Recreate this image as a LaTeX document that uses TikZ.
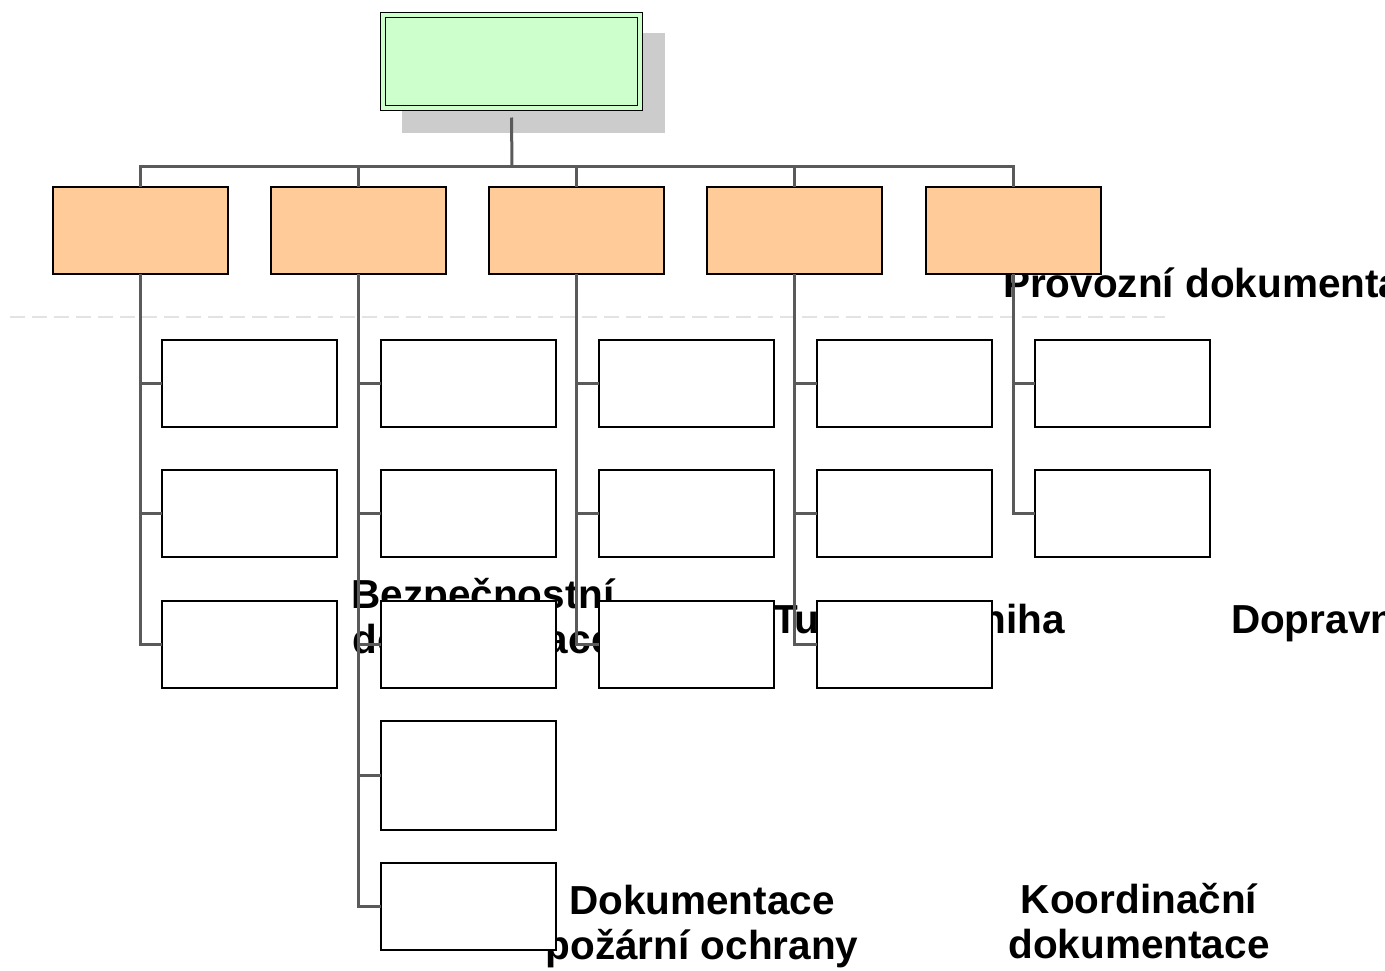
\documentclass[tikz,border=0pt]{standalone}
\usepackage{fontspec}
\setmainfont{Liberation Sans}
\definecolor{topgreen}{HTML}{CCFFCC}
\definecolor{orangebox}{HTML}{FFCC99}
\definecolor{shadowgray}{HTML}{CCCCCC}
\definecolor{conncol}{HTML}{5A5A5A}
\definecolor{dashcol}{HTML}{E3E3E3}
\tikzset{
  conn/.style={draw=conncol, line width=3pt},
  boxbase/.style={draw=black, line width=1.4pt, rectangle, inner sep=0pt, outer sep=0pt, anchor=north west},
  topbox/.style={boxbase, fill=topgreen, minimum width=262pt, minimum height=98pt},
  orangenode/.style={boxbase, fill=orangebox, minimum width=175pt, minimum height=87pt},
  childbox/.style={boxbase, fill=white, minimum width=175pt, minimum height=87pt},
  tallbox/.style={boxbase, fill=white, minimum width=175pt, minimum height=109pt},
  label/.style={font=\fontsize{40.5}{45}\selectfont\bfseries, inner sep=0pt, outer sep=0pt, text=black},
}
\begin{document}
\begin{tikzpicture}[x=1pt, y=-1pt]
\useasboundingbox (0,0) rectangle (1385,970);
\clip (0,0) rectangle (1385,970);
% dashed guide line
\coordinate (dashL) at (10,317);
\coordinate (dashR) at (1165,317);
\draw[dashcol, line width=1.6pt, dash pattern=on 15pt off 7pt] (dashL) -- (dashR);
% texts (behind boxes and connectors)
\node[label, anchor=base west] (tProv) at (1003,297) {Provozní dokumentace};
\node[label, anchor=base, align=center] (tBezp) at (483,653) {Bezpečnostní\\dokumentace};
\node[label, anchor=base west] (tTun) at (773,633) {Tunelová kniha};
\node[label, anchor=base west] (tDop) at (1231,633) {Dopravní};
\node[label, anchor=base, align=center] (tDok) at (702,959) {Dokumentace\\požární ochrany};
\node[label, anchor=base, align=center] (tKoor) at (1139,958) {Koordinační\\dokumentace};
% shadow of top box
\node[rectangle, fill=shadowgray, minimum width=263pt, minimum height=100pt, inner sep=0pt, anchor=north west] (shadow) at (402,33) {};
% top box
\node[topbox] (top) at (380.5,12.5) {};
\draw[black, line width=1.4pt] ([shift={(5pt,-5pt)}]top.north west) rectangle ([shift={(-5pt,5pt)}]top.south east);
% orange boxes
\node[orangenode] (o1) at (53,187) {};
\node[orangenode] (o2) at (271,187) {};
\node[orangenode] (o3) at (489,187) {};
\node[orangenode] (o4) at (707,187) {};
\node[orangenode] (o5) at (926,187) {};
% child boxes
\node[childbox] (c11) at (162,340) {};
\node[childbox] (c12) at (162,470) {};
\node[childbox] (c13) at (162,601) {};
\node[childbox] (c21) at (381,340) {};
\node[childbox] (c22) at (381,470) {};
\node[childbox] (c23) at (381,601) {};
\node[tallbox]  (c24) at (381,721) {};
\node[childbox] (c25) at (381,863) {};
\node[childbox] (c31) at (599,340) {};
\node[childbox] (c32) at (599,470) {};
\node[childbox] (c33) at (599,601) {};
\node[childbox] (c41) at (817,340) {};
\node[childbox] (c42) at (817,470) {};
\node[childbox] (c43) at (817,601) {};
\node[childbox] (c51) at (1035,340) {};
\node[childbox] (c52) at (1035,470) {};
% bus
\coordinate (bus) at (512,166);
\draw[conn] ([yshift=-7pt]top.south) -- (bus);
\draw[conn] (o1.north) |- (bus) -| (o5.north);
\draw[conn] (o2.north) -- (o2.north |- bus);
\draw[conn] (o3.north) -- (o3.north |- bus);
\draw[conn] (o4.north) -- (o4.north |- bus);
% spines
\draw[conn] (o1.south) |- (c13.west);
\draw[conn] (c11.west -| o1.south) -- (c11.west);
\draw[conn] (c12.west -| o1.south) -- (c12.west);
\draw[conn] (o2.south) |- (c25.west);
\draw[conn] (c21.west -| o2.south) -- (c21.west);
\draw[conn] (c22.west -| o2.south) -- (c22.west);
\draw[conn] (c23.west -| o2.south) -- (c23.west);
\draw[conn] (c24.west -| o2.south) -- (c24.west);
\draw[conn] (o3.south) |- (c33.west);
\draw[conn] (c31.west -| o3.south) -- (c31.west);
\draw[conn] (c32.west -| o3.south) -- (c32.west);
\draw[conn] (o4.south) |- (c43.west);
\draw[conn] (c41.west -| o4.south) -- (c41.west);
\draw[conn] (c42.west -| o4.south) -- (c42.west);
\draw[conn] (o5.south) |- (c52.west);
\draw[conn] (c51.west -| o5.south) -- (c51.west);
\end{tikzpicture}
\end{document}
